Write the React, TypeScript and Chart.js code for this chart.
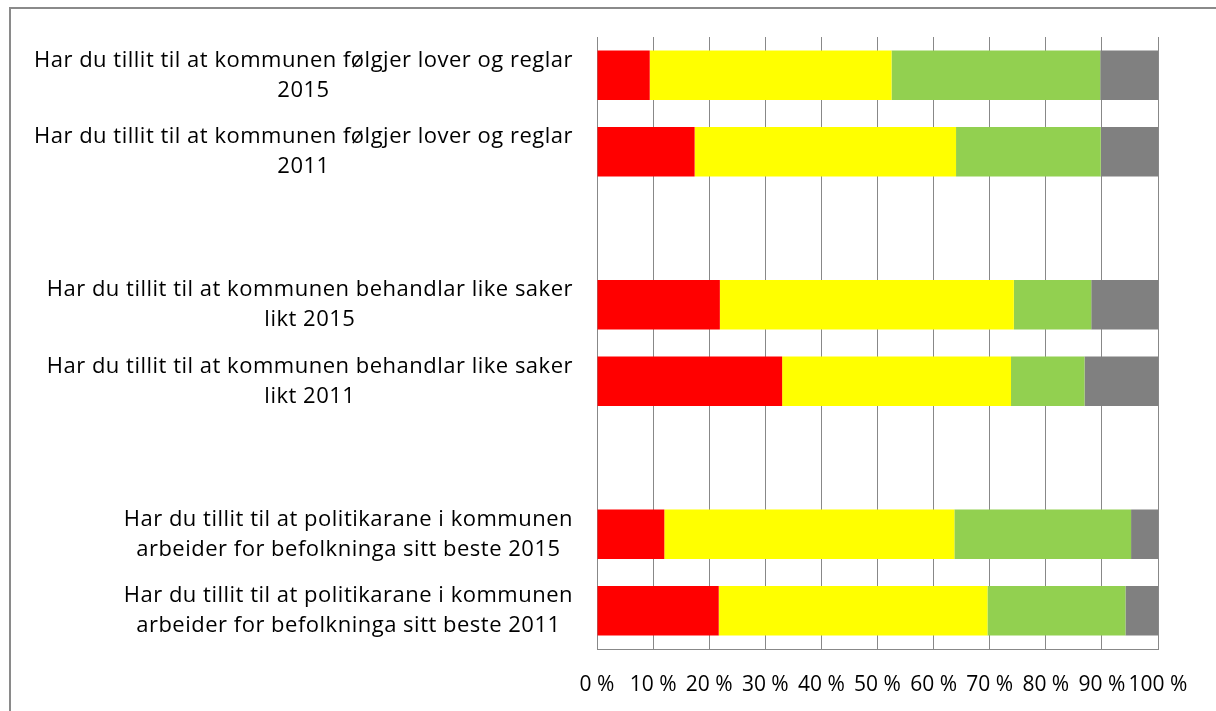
import React, { useEffect, useRef } from "react";
import { Chart, registerables } from "chart.js";

Chart.register(...registerables);

const categoryLines: string[][] = [
  ["Har du tillit til at kommunen følgjer lover og reglar", "2015"],
  ["Har du tillit til at kommunen følgjer lover og reglar", "2011"],
  [""],
  ["Har du tillit til at kommunen behandlar like saker", "likt 2015"],
  ["Har du tillit til at kommunen behandlar like saker", "likt 2011"],
  [""],
  ["Har du tillit til at politikarane i kommunen", "arbeider for befolkninga sitt beste 2015"],
  ["Har du tillit til at politikarane i kommunen", "arbeider for befolkninga sitt beste 2011"],
];

const seriesNames = ["Lite tillit", "Noko tillit", "Stor tillit", "Veit ikkje"];
const redValues = [9.4, 17.4, null, 21.9, 33.0, null, 12.0, 21.7];
const yellowValues = [43.1, 46.6, null, 52.4, 40.8, null, 51.7, 47.9];
const greenValues = [37.2, 25.8, null, 13.8, 13.1, null, 31.5, 24.6];
const grayValues = [10.3, 10.2, null, 11.9, 13.1, null, 4.8, 5.8];
const seriesColors = ["#FF0000", "#FFFF00", "#92D050", "#808080"];
const tickValues = [0, 10, 20, 30, 40, 50, 60, 70, 80, 90, 100];

const FONT = "'Open Sans'";
const TICK_FONT_SIZE = 21;
const LABEL_FONT_SIZE = 22;

const labelPlugin = {
  id: "categoryLabels",
  afterDraw(chart: any) {
    const ctx = chart.ctx;
    const yScale = chart.scales.y;
    const area = chart.chartArea;
    ctx.save();
    ctx.font = `${LABEL_FONT_SIZE}px ${FONT}`;
    try {
      (ctx as any).letterSpacing = "0.5px";
    } catch (e) {}
    ctx.fillStyle = "#000000";
    ctx.textBaseline = "middle";
    ctx.textAlign = "center";
    const lineH = 30;
    categoryLines.forEach((lines, i) => {
      const y = yScale.getPixelForValue(i);
      const widest = Math.max(...lines.map((l) => ctx.measureText(l).width));
      const xc = area.left - 24 - widest / 2;
      lines.forEach((l, j) => {
        ctx.fillText(l, xc, y + (j - (lines.length - 1) / 2) * lineH);
      });
    });
    ctx.restore();
  },
};

const framePlugin = {
  id: "frame",
  beforeDraw(chart: any) {
    const ctx = chart.ctx;
    ctx.save();
    ctx.fillStyle = "#ffffff";
    ctx.fillRect(0, 0, chart.width, chart.height);
    ctx.strokeStyle = "#8a8a8a";
    ctx.lineWidth = 2;
    ctx.beginPath();
    ctx.moveTo(10, chart.height);
    ctx.lineTo(10, 8);
    ctx.lineTo(chart.width, 8);
    ctx.stroke();
    ctx.restore();
  },
};

export default function App() {
  const canvasRef = useRef<HTMLCanvasElement | null>(null);

  useEffect(() => {
    if (!canvasRef.current) return;
    const values = [redValues, yellowValues, greenValues, grayValues];
    const chart = new Chart(canvasRef.current, {
      type: "bar",
      data: {
        labels: categoryLines.map((l) => l.join(" ")),
        datasets: values.map((v, i) => ({
          label: seriesNames[i],
          data: v as any,
          backgroundColor: seriesColors[i],
          borderWidth: 0,
          barPercentage: 0.65,
          categoryPercentage: 1,
        })),
      },
      options: {
        indexAxis: "y",
        animation: false,
        responsive: true,
        maintainAspectRatio: false,
        layout: { padding: { left: 0, top: 37, right: 58, bottom: 0 } },
        plugins: {
          legend: { display: false },
          tooltip: { enabled: false },
        },
        scales: {
          x: {
            stacked: true,
            min: 0,
            max: 100,
            afterBuildTicks(scale: any) {
              scale.ticks = tickValues.map((v) => ({ value: v }));
            },
            afterFit(scale: any) {
              scale.height = 62;
            },
            grid: { color: "#888888", lineWidth: 1, drawTicks: false },
            border: { display: true, color: "#888888", width: 1 },
            ticks: {
              autoSkip: false,
              maxRotation: 0,
              minRotation: 0,
              padding: 23,
              color: "#000000",
              font: { family: FONT, size: TICK_FONT_SIZE },
              callback: (v: any) => `${v} %`,
            },
          },
          y: {
            stacked: true,
            afterFit(scale: any) {
              scale.width = 597;
            },
            grid: { display: false },
            border: { display: false },
            ticks: { display: false },
          },
        },
      },
      plugins: [framePlugin, labelPlugin],
    });
    return () => chart.destroy();
  }, []);

  return (
    <div style={{ position: "fixed", left: 0, top: 0, width: 1216, height: 711, background: "#fff" }}>
      <canvas ref={canvasRef} />
    </div>
  );
}
